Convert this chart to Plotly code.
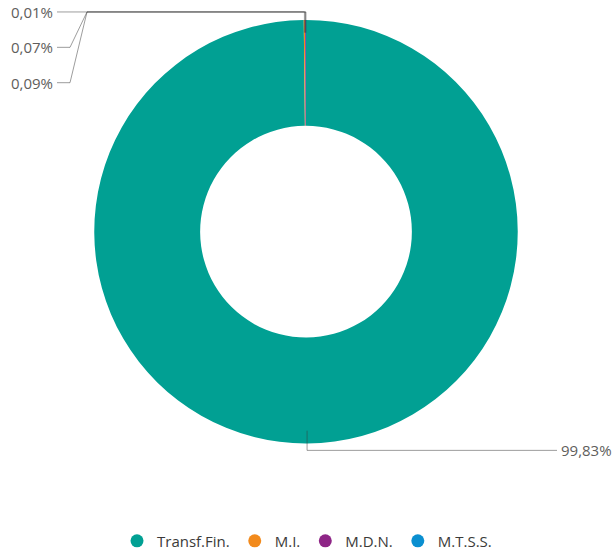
import math
import plotly.graph_objects as go

# ---- data ----
categories = ["Transf.Fin.", "M.I.", "M.D.N.", "M.T.S.S."]
shares = [99.83, 0.09, 0.07, 0.01]
colors = ["#01A093", "#F28A1C", "#8E2586", "#0A8FD0"]

# ---- layout constants (pixels) ----
W, H = 614, 558
CX, CY, R = 306.0, 232.5, 212.5
HOLE = 0.5
LEADER_R = 0.94 * R
TOP_ROUTE_Y = 12.0
LEFT_ELBOW_X, LEFT_STUB_X, LEFT_END_X, LEFT_TEXT_X = 87.0, 70.0, 57.0, 55.0
ROW_GAP = 35.5
BOTTOM_ROUTE_Y = 452.0
RIGHT_END_X, RIGHT_TEXT_X = 557.0, 559.0
LABEL_COLOR = "#605E5C"
LINE_COLOR = "rgba(60,60,60,0.5)"
FONT = "Open Sans, sans-serif"


def px(x):
    return x / W


def py(y):
    return 1 - y / H


fig = go.Figure()
fig.add_trace(go.Pie(
    labels=categories, values=shares, hole=HOLE, sort=False,
    direction="clockwise", rotation=0, textinfo="none",
    marker=dict(colors=colors, line=dict(width=0)),
    domain=dict(x=[px(CX - R), px(CX + R)], y=[py(CY + R), py(CY - R)]),
    showlegend=False, hoverinfo="label+percent",
))

# legend entries with round markers
for c, col in zip(categories, colors):
    fig.add_trace(go.Scatter(x=[None], y=[None], mode="markers", name=c,
                             marker=dict(color=col, size=13, symbol="circle")))

# leader lines and labels computed from slice angles
total = sum(shares)
cum = 0.0
mids = []
for v in shares:
    mids.append((cum + v / 2) / total * 360.0)
    cum += v

shapes, annotations = [], []
fmt = lambda v: f"{v:.2f}%".replace(".", ",")

small_idx = []
for i, (v, a) in enumerate(zip(shares, mids)):
    sx = CX + LEADER_R * math.sin(math.radians(a))
    sy = CY - LEADER_R * math.cos(math.radians(a))
    if v / total > 0.5:
        path = f"M {px(sx)},{py(sy)} L {px(sx)},{py(BOTTOM_ROUTE_Y)} L {px(RIGHT_END_X)},{py(BOTTOM_ROUTE_Y)}"
        shapes.append(dict(type="path", path=path, xref="paper", yref="paper",
                           line=dict(color=LINE_COLOR, width=1)))
        annotations.append(dict(x=px(RIGHT_TEXT_X), y=py(BOTTOM_ROUTE_Y), xref="paper", yref="paper",
                                text=fmt(v), showarrow=False, xanchor="left", yanchor="middle",
                                font=dict(size=15, color=LABEL_COLOR, family=FONT)))
    else:
        small_idx.append((i, sx, sy))

# small slices -> stacked on the left, nearest to 12 o'clock on top
small_idx.sort(key=lambda t: -mids[t[0]])
for row, (i, sx, sy) in enumerate(small_idx):
    ry = TOP_ROUTE_Y + row * ROW_GAP
    path = (f"M {px(sx)},{py(sy)} L {px(sx)},{py(TOP_ROUTE_Y)} L {px(LEFT_ELBOW_X)},{py(TOP_ROUTE_Y)} "
            f"L {px(LEFT_STUB_X)},{py(ry)} L {px(LEFT_END_X)},{py(ry)}")
    shapes.append(dict(type="path", path=path, xref="paper", yref="paper",
                       line=dict(color=LINE_COLOR, width=1)))
    annotations.append(dict(x=px(LEFT_TEXT_X), y=py(ry), xref="paper", yref="paper",
                            text=fmt(shares[i]), showarrow=False, xanchor="right", yanchor="middle",
                            font=dict(size=15, color=LABEL_COLOR, family=FONT)))

fig.update_layout(
    width=W, height=H,
    margin=dict(l=0, r=0, t=0, b=0),
    paper_bgcolor="white", plot_bgcolor="white",
    xaxis=dict(visible=False), yaxis=dict(visible=False),
    shapes=shapes, annotations=annotations,
    legend=dict(orientation="h", x=0.5, xanchor="center", y=py(543), yanchor="middle",
                font=dict(size=15, color="#3B3A39", family=FONT), itemwidth=30,
                tracegroupgap=0),
    font=dict(family=FONT),
)

fig.write_html("out.html", config={"displayModeBar": False},
               post_script="document.body.style.margin='0';document.body.style.overflow='hidden';")
